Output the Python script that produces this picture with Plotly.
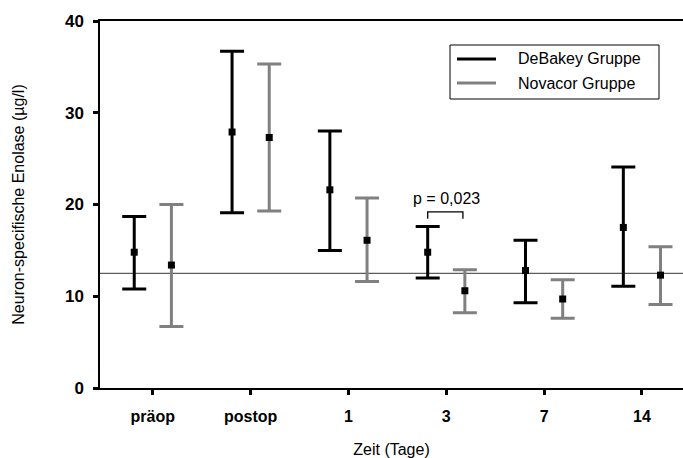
import plotly.graph_objects as go

# ---- data ----
categories = ["präop", "postop", "1", "3", "7", "14"]

debakey_mean = [14.8, 27.9, 21.6, 14.8, 12.8, 17.5]
debakey_upper = [18.7, 36.7, 28.0, 17.6, 16.1, 24.1]
debakey_lower = [10.8, 19.1, 15.0, 12.0, 9.3, 11.1]

novacor_mean = [13.4, 27.3, 16.1, 10.6, 9.7, 12.3]
novacor_upper = [20.0, 35.3, 20.7, 12.9, 11.8, 15.4]
novacor_lower = [6.7, 19.3, 11.6, 8.2, 7.6, 9.1]

reference_level = 12.5
p_label = "p = 0,023"
p_group = "3"

y_ticks = [0, 10, 20, 30, 40]

# ---- layout constants ----
W, H = 683, 458
ML, MR, MT, MB = 100, 0, 21, 70
OFFSET = 0.19
FONT = "Liberation Sans, Arial, sans-serif"

pos = list(range(len(categories)))


def px_to_paper(x, y):
    return (x - ML) / (W - ML - MR), (H - MB - y) / (H - MT - MB)


fig = go.Figure()


def add_series(means, upper, lower, color, shift):
    fig.add_trace(go.Scatter(
        x=[p + shift for p in pos],
        y=means,
        mode="markers",
        marker=dict(symbol="square", size=7, color="black"),
        error_y=dict(
            type="data", symmetric=False,
            array=[u - m for u, m in zip(upper, means)],
            arrayminus=[m - l for m, l in zip(means, lower)],
            color=color, thickness=3, width=12,
        ),
        showlegend=False,
        hoverinfo="skip",
    ))


add_series(debakey_mean, debakey_upper, debakey_lower, "black", -OFFSET)
add_series(novacor_mean, novacor_upper, novacor_lower, "#808080", OFFSET)

shapes = []
# reference line
shapes.append(dict(type="line", xref="paper", yref="y", x0=0, x1=1,
                   y0=reference_level, y1=reference_level,
                   line=dict(color="#333333", width=1), layer="below"))

# significance bracket
gi = categories.index(p_group)
bx0, bx1 = gi - OFFSET, gi + OFFSET - 0.02
btop = max(debakey_upper[gi], novacor_upper[gi]) + 1.6
bleg = btop - 0.75
shapes.append(dict(type="path", xref="x", yref="y",
                   path=f"M {bx0} {bleg} L {bx0} {btop} L {bx1} {btop} L {bx1} {bleg}",
                   line=dict(color="black", width=1.3)))

# manual legend box
lx0, ly0 = px_to_paper(450, 45)
lx1, ly1 = px_to_paper(659, 99)
shapes.append(dict(type="rect", xref="paper", yref="paper",
                   x0=lx0, y0=ly1, x1=lx1, y1=ly0,
                   line=dict(color="black", width=1), fillcolor="white"))
legend_items = [("DeBakey Gruppe", "black", 59), ("Novacor Gruppe", "#808080", 83)]
annotations = []
for name, col, yy in legend_items:
    a, b = px_to_paper(457, yy)
    c, _ = px_to_paper(496, yy)
    shapes.append(dict(type="line", xref="paper", yref="paper",
                       x0=a, x1=c, y0=b, y1=b, line=dict(color=col, width=3)))
    tx, ty = px_to_paper(516, yy)
    annotations.append(dict(xref="paper", yref="paper", x=tx, y=ty, text=name,
                            showarrow=False, xanchor="left", yanchor="middle",
                            font=dict(family=FONT, size=16, color="black")))

annotations.append(dict(xref="x", yref="y", x=gi, y=btop + 0.3, text=p_label,
                        showarrow=False, xanchor="center", yanchor="bottom",
                        font=dict(family=FONT, size=16, color="black")))

fig.update_layout(
    width=W, height=H,
    margin=dict(l=ML, r=MR, t=MT, b=MB),
    paper_bgcolor="white", plot_bgcolor="white",
    font=dict(family=FONT, size=16, color="black"),
    shapes=shapes,
    annotations=annotations,
    showlegend=False,
)

fig.update_xaxes(
    range=[-0.54, 5.42],
    tickmode="array", tickvals=pos, ticktext=categories,
    tickfont=dict(family=FONT, size=16, weight="bold"),
    ticks="outside", ticklen=5, tickwidth=2.5, tickcolor="black",
    showline=True, linecolor="black", linewidth=1.5, mirror=True,
    showgrid=False, zeroline=False,
    ticklabelstandoff=8,
    title=dict(text="Zeit (Tage)", font=dict(family=FONT, size=16), standoff=22),
)
fig.update_yaxes(
    range=[0, 40],
    tickmode="array", tickvals=y_ticks,
    tickfont=dict(family=FONT, size=17, weight="bold"),
    ticks="outside", ticklen=5, tickwidth=2.5, tickcolor="black",
    showline=True, linecolor="black", linewidth=1.5,
    showgrid=False, zeroline=False,
    ticklabelstandoff=6,
    title=dict(text="Neuron-specifische Enolase (µg/l)", font=dict(family=FONT, size=16), standoff=36),
)

fig.write_html("out.html")
